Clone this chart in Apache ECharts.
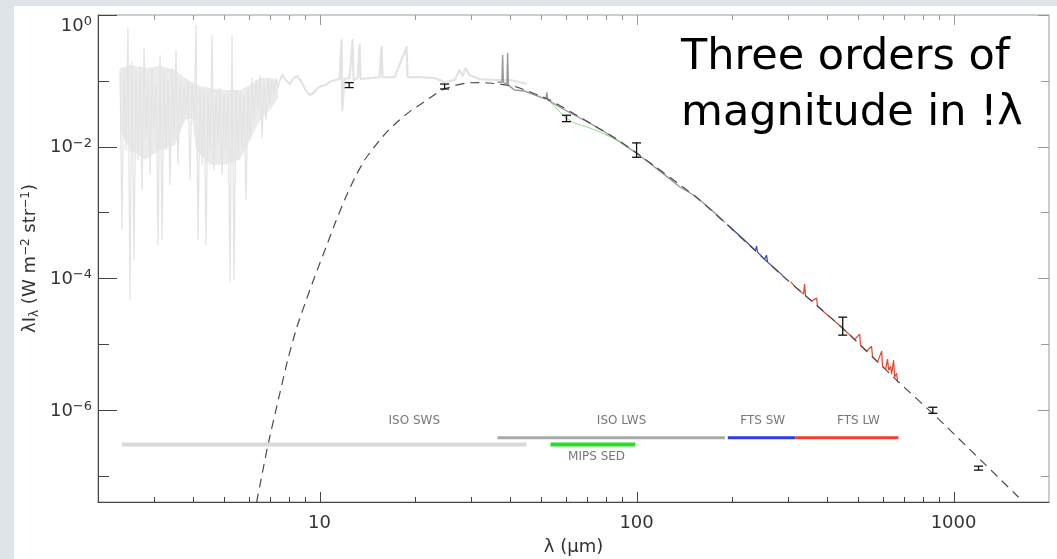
<!DOCTYPE html>
<html>
<head>
<meta charset="utf-8">
<script src="https://cdn.jsdelivr.net/npm/echarts@6/dist/echarts.min.js"></script>
<style>
html, body { margin: 0; padding: 0; width: 1057px; height: 559px; overflow: hidden; background: #dfe4e9; }
#panel { position: absolute; left: 14px; top: 6px; right: 0; bottom: 0; background: #ffffff; }
#chart { position: absolute; left: 0; top: 0; width: 1057px; height: 559px; }
</style>
</head>
<body>
<div id="panel"></div>
<div id="chart"></div>
<script>
// ---- Spectral energy distribution: wavelength (μm) vs λIλ (W m^-2 str^-1) ----

// ISO SWS spectrum, short end (very noisy)
const isoSwsShort = [
  [2.346, 0.146], [2.380, 5.4e-4], [2.415, 0.156], [2.451, 0.0089], [2.486, 0.634], [2.523, 4.7e-5],
  [2.560, 0.193], [2.597, 1.9e-4], [2.635, 0.123], [2.674, 0.0063], [2.714, 0.168], [2.753, 0.0022],
  [2.794, 0.315], [2.835, 0.0126], [2.876, 0.110], [2.919, 0.0037], [2.961, 0.146], [3.005, 0.0179],
  [3.049, 0.0959], [3.093, 3.2e-4], [3.139, 0.247], [3.185, 3.8e-4], [3.231, 0.136], [3.278, 0.0089],
  [3.326, 0.103], [3.375, 0.0026], [3.424, 0.156], [3.474, 0.0126], [3.525, 0.294], [3.577, 0.0053],
  [3.629, 0.0959], [3.682, 0.0213], [3.736, 0.0863], [3.791, 0.0302], [3.846, 0.0959], [3.902, 0.0031],
  [3.959, 0.0894], [4.017, 0.0254], [4.076, 0.705], [4.136, 3.8e-4], [4.196, 0.0777], [4.258, 0.0053],
  [4.320, 0.0725], [4.383, 3.2e-4], [4.447, 0.0676], [4.512, 0.0089], [4.578, 0.497], [4.645, 0.0044],
  [4.713, 0.0725], [4.782, 0.0106], [4.852, 0.0777], [4.923, 0.0037], [4.995, 0.0609], [5.068, 0.0089],
  [5.142, 0.0676], [5.218, 8.8e-5], [5.294, 0.497], [5.372, 9.4e-5], [5.450, 0.0725], [5.530, 0.0063],
  [5.611, 0.0676], [5.693, 0.0089], [5.776, 0.0609], [5.861, 0.00155], [5.946, 0.0777], [6.033, 0.0126],
  [6.122, 0.110], [6.211, 0.0254], [6.302, 0.103], [6.394, 0.036], [6.487, 0.123], [6.582, 0.0135],
  [6.679, 0.0959], [6.776, 0.0254], [6.875, 0.110], [6.976, 0.0429], [7.078, 0.103], [7.181, 0.0609],
  [7.286, 0.110], [7.393, 0.0777], [7.50, 0.103]
];

// dense core of the short-end spectrum: upper and lower edges
const swsCoreWave = [2.346, 2.523, 2.814, 3.139, 3.50, 3.763, 3.96, 4.076, 4.512, 5.03, 5.611, 6.033, 6.487, 6.976, 7.393];
const swsCoreHigh = [0.156, 0.174, 0.156, 0.168, 0.146, 0.110, 0.0959, 0.0863, 0.0777, 0.0725, 0.0725, 0.0863, 0.110, 0.110, 0.103];
const swsCoreLow  = [0.0179, 0.0089, 0.0063, 0.0089, 0.0106, 0.0254, 0.0272, 0.0089, 0.0053, 0.0053, 0.0063, 0.0126, 0.0254, 0.036, 0.0548];

// ISO SWS spectrum, long end
const isoSwsLong = [
  [7.50, 0.103], [7.64, 0.123], [7.81, 0.103], [8.07, 0.0894], [8.28, 0.110], [8.52, 0.118],
  [8.77, 0.0959], [9.03, 0.0725], [9.33, 0.0609], [9.57, 0.0653], [9.86, 0.0777], [10.15, 0.0834],
  [10.45, 0.0863], [10.75, 0.0959], [11.23, 0.103], [11.56, 0.1065], [11.73, 0.417], [11.80, 0.036],
  [11.99, 0.1065], [12.43, 0.110], [12.71, 0.417], [12.80, 0.103], [13.18, 0.110], [13.37, 0.350],
  [13.47, 0.1065], [14.37, 0.110], [15.46, 0.114], [15.69, 0.326], [15.80, 0.114], [17.24, 0.114],
  [18.81, 0.326], [18.95, 0.114], [20.66, 0.114], [23.06, 0.110], [24.8, 0.0959], [26.7, 0.103],
  [27.6, 0.146], [28.25, 0.118], [28.88, 0.156], [29.7, 0.123], [31.9, 0.1065], [35.6, 0.103],
  [39.8, 0.103], [42.7, 0.0959], [45.0, 0.0894]
];

// ISO LWS spectrum
const isoLws = [
  [36.4, 0.096], [37.6, 0.095], [37.8, 0.247], [38.0, 0.094], [39.0, 0.090], [39.2, 0.264],
  [39.4, 0.086], [39.7, 0.083], [41.2, 0.0725], [44.3, 0.070], [47.6, 0.061], [51.7, 0.053],
  [52.1, 0.067], [52.5, 0.051], [57.1, 0.0401], [63.8, 0.030], [71.2, 0.0228], [79.3, 0.0167],
  [88.5, 0.0118], [98.8, 0.0083], [110, 0.0056], [123, 0.0037], [137, 0.00244], [153, 0.00178],
  [170, 0.00116], [190, 7.1e-4]
];

// MIPS SED spectrum
const mipsSed = [
  [53.9, 0.046], [57.2, 0.0336], [60.1, 0.0272], [63.8, 0.0229], [71.1, 0.0192],
  [79.3, 0.0155], [88.4, 0.01175], [97.1, 0.00857]
];

// SPIRE FTS short-wave band
const ftsSw = [
  [193.6, 6.53e-4], [205.2, 5.06e-4], [220.8, 3.66e-4], [232.3, 2.93e-4], [237.3, 2.66e-4],
  [239.0, 3.08e-4], [240.9, 2.5e-4], [253.3, 1.94e-4], [257.0, 2.25e-4], [259.1, 1.76e-4],
  [272.3, 1.43e-4], [288.8, 1.11e-4]
];

// SPIRE FTS long-wave band
const ftsLw = [
  [306.2, 8.85e-5], [317.4, 7.34e-5], [326.8, 6.5e-5], [336.4, 5.75e-5], [338.8, 8.17e-5],
  [341.3, 5.42e-5], [356.5, 4.5e-5], [369.7, 5.0e-5], [372.4, 3.77e-5], [391.8, 3.03e-5],
  [415.3, 2.38e-5], [436.9, 1.92e-5], [463.1, 1.48e-5], [487.3, 1.17e-5], [505.4, 1.42e-5],
  [509.0, 9.54e-6], [531.6, 7.8e-6], [551.0, 9.3e-6], [555.3, 6.37e-6], [575.9, 5.38e-6],
  [593.0, 7.83e-6], [597.0, 4.55e-6], [610.3, 4.17e-6], [619.2, 5.92e-6], [623.7, 4.03e-6],
  [632.9, 4.63e-6], [637.5, 3.5e-6], [646.9, 5.71e-6], [651.5, 3.15e-6], [661.0, 3.62e-6],
  [665.9, 2.64e-6]
];

// Modified blackbody fit (dashed)
const greyBody = [
  [6.33, 3.97e-8], [6.85, 2.72e-7], [7.48, 1.74e-6], [7.93, 5.71e-6], [8.46, 1.75e-5],
  [9.03, 4.35e-5], [9.64, 1.04e-4], [10.6, 3.43e-4], [11.23, 7.15e-4], [11.99, 1.55e-3],
  [12.90, 3.33e-3], [13.87, 6.26e-3], [15.13, 0.01096], [16.39, 0.01726], [17.87, 0.0254],
  [19.51, 0.036], [21.13, 0.046], [22.72, 0.0588], [24.26, 0.0725], [26.67, 0.0848],
  [29.09, 0.0926], [31.9, 0.0942], [34.39, 0.0926], [37.8, 0.0879], [41.83, 0.0805],
  [53.18, 0.0511], [69.55, 0.0245], [86.48, 0.01305], [102.2, 7.45e-3], [158.0, 1.55e-3],
  [282.5, 1.2e-4], [446.6, 1.75e-5], [661, 2.84e-6], [884, 7.78e-7], [1580, 5.07e-8],
  [1639, 4.26e-8]
];

// Photometry with error bars
const photWave = [12.4, 24.8, 60.1, 100, 447, 860, 1199];
const photLow  = [0.079, 0.0752, 0.024, 0.0069, 1.37e-5, 8.9e-7, 1.22e-7];
const photHigh = [0.094, 0.0894, 0.030, 0.0114, 2.57e-5, 1.1e-6, 1.4e-7];

// Instrument wavelength coverage
const bandNames = ['ISO SWS', 'ISO LWS', 'MIPS SED', 'FTS SW', 'FTS LW'];
const bandStart = [2.38, 36.4, 53.5, 194, 317];
const bandEnd   = [45, 190, 99, 317, 670];
const bandLevel = [3.0e-7, 3.8e-7, 3.0e-7, 3.8e-7, 3.8e-7];
const bandLabelWave = [19.9, 89.7, 74.8, 250, 501];
const bandLabelFlux = [6.76e-7, 6.76e-7, 1.92e-7, 6.76e-7, 6.76e-7];

// Axis ticks
const xMajorTicks = [10, 100, 1000];
const xMinorTicks = [3, 4, 5, 6, 7, 8, 9, 20, 30, 40, 50, 60, 70, 80, 90, 200, 300, 400, 500, 600, 700, 800, 900];
const yLabelledTicks = [1, 1e-2, 1e-4, 1e-6];
const yOtherTicks = [1e-1, 1e-3, 1e-5, 1e-7];

const X_MIN = 2, X_MAX = 2000, Y_MIN = 4e-8, Y_MAX = 1;

// ---- styles ----
const bandColors = ['#d9d9d9', '#a8a8a8', '#27e027', '#2b3ed8', '#f0402a'];
const bandWidths = [4, 3, 4, 3, 3];
const FONT = 'DejaVu Sans';

const tickStyle = [
  { dx: 0, dy: -1, len: 10, c: '#444' },  // bottom, decade
  { dx: 0, dy: -1, len: 5,  c: '#444' },  // bottom, minor
  { dx: 0, dy: 1,  len: 10, c: '#999' },  // top, decade
  { dx: 0, dy: 1,  len: 5,  c: '#999' },  // top, minor
  { dx: 1, dy: 0,  len: 19, c: '#444' },  // left, labelled
  { dx: 1, dy: 0,  len: 11, c: '#444' },  // left, other
  { dx: -1, dy: 0, len: 11, c: '#999' },  // right, labelled
  { dx: -1, dy: 0, len: 8,  c: '#999' }   // right, other
];

const tickItems = [];
xMajorTicks.forEach(v => { tickItems.push([v, Y_MIN, 0]); tickItems.push([v, Y_MAX, 2]); });
xMinorTicks.forEach(v => { tickItems.push([v, Y_MIN, 1]); tickItems.push([v, Y_MAX, 3]); });
yLabelledTicks.forEach(v => { tickItems.push([X_MIN, v, 4]); tickItems.push([X_MAX, v, 6]); });
yOtherTicks.forEach(v => { tickItems.push([X_MIN, v, 5]); tickItems.push([X_MAX, v, 7]); });

const errItems = photWave.map((w, i) => [w, photLow[i], photHigh[i]]);
const coreItems = swsCoreWave.map((w, i) => [w, swsCoreHigh[i], swsCoreLow[i]]);

function isPow10(v) {
  const e = Math.log10(v);
  return Math.abs(e - Math.round(e)) < 1e-6;
}

const lineBase = {
  type: 'line', showSymbol: false, symbol: 'none', animation: false, silent: true, clip: true
};

const series = [
  // filled core of the noisy short-wavelength spectrum
  {
    type: 'custom', name: 'ISO SWS core', animation: false, silent: true, z: 0,
    data: coreItems,
    renderItem: function (params, api) {
      if (params.dataIndex !== 0) return null;
      const upper = [], lower = [];
      for (let i = 0; i < coreItems.length; i++) {
        upper.push(api.coord([coreItems[i][0], coreItems[i][1]]));
        lower.push(api.coord([coreItems[i][0], coreItems[i][2]]));
      }
      return { type: 'polygon', shape: { points: upper.concat(lower.reverse()) },
        style: { fill: '#ebebeb' } };
    }
  },
  Object.assign({}, lineBase, { name: 'ISO SWS', data: isoSwsShort, z: 1,
    lineStyle: { color: '#e3e3e3', width: 1.2 } }),
  Object.assign({}, lineBase, { name: 'ISO SWS long', data: isoSwsLong, z: 1,
    lineStyle: { color: '#e3e3e3', width: 2.2, join: 'round' } }),
  Object.assign({}, lineBase, { name: 'ISO LWS', data: isoLws, z: 2,
    lineStyle: { color: '#999999', width: 1.4 } }),
  Object.assign({}, lineBase, { name: 'MIPS SED', data: mipsSed, z: 3, smooth: 0.3,
    lineStyle: { color: '#86dc86', width: 1 } }),
  Object.assign({}, lineBase, { name: 'FTS SW', data: ftsSw, z: 3,
    lineStyle: { color: '#3447c8', width: 1.2 } }),
  Object.assign({}, lineBase, { name: 'FTS LW', data: ftsLw, z: 3,
    lineStyle: { color: '#e5432e', width: 1.2 } }),
  Object.assign({}, lineBase, { name: 'fit', data: greyBody, z: 4, smooth: 0.2,
    lineStyle: { color: '#4a4a4a', width: 1.2, type: [9, 6] } })
];

// coverage bars
bandNames.forEach((n, i) => {
  series.push(Object.assign({}, lineBase, {
    name: n + ' range', z: 5,
    data: [[bandStart[i], bandLevel[i]], [bandEnd[i], bandLevel[i]]],
    lineStyle: { color: bandColors[i], width: bandWidths[i], cap: 'butt' }
  }));
});

// coverage labels
series.push({
  type: 'scatter', name: 'band labels', animation: false, silent: true, z: 6,
  symbolSize: 1, itemStyle: { color: 'rgba(0,0,0,0)' },
  data: bandNames.map((n, i) => ({ name: n, value: [bandLabelWave[i], bandLabelFlux[i]] })),
  label: { show: true, position: 'inside', formatter: '{b}', color: '#555',
    fontFamily: FONT, fontSize: 12 }
});

// photometric points with error bars
series.push({
  type: 'custom', name: 'photometry', animation: false, silent: true, z: 7, clip: false,
  data: errItems,
  renderItem: function (params, api) {
    const a = api.coord([api.value(0), api.value(1)]);
    const b = api.coord([api.value(0), api.value(2)]);
    const w = 4.5;
    const st = { stroke: '#111', lineWidth: 1.3 };
    return { type: 'group', children: [
      { type: 'line', shape: { x1: a[0], y1: a[1], x2: b[0], y2: b[1] }, style: st },
      { type: 'line', shape: { x1: a[0] - w, y1: a[1], x2: a[0] + w, y2: a[1] }, style: st },
      { type: 'line', shape: { x1: b[0] - w, y1: b[1], x2: b[0] + w, y2: b[1] }, style: st }
    ]};
  }
});

// axis ticks (inward, IDL style)
series.push({
  type: 'custom', name: 'ticks', animation: false, silent: true, z: 8, clip: false,
  data: tickItems,
  renderItem: function (params, api) {
    const p = api.coord([api.value(0), api.value(1)]);
    const s = tickStyle[api.value(2)];
    const x = Math.round(p[0]) + (s.dx === 0 ? 0.5 : 0);
    const y = Math.round(p[1]) + (s.dy === 0 ? 0.5 : 0);
    return { type: 'line',
      shape: { x1: x, y1: y, x2: x + s.dx * s.len, y2: y + s.dy * s.len },
      style: { stroke: s.c, lineWidth: 1 } };
  }
});

const chart = echarts.init(document.getElementById('chart'), null, { renderer: 'canvas' });

chart.setOption({
  backgroundColor: 'transparent',
  animation: false,
  title: {
    text: 'Three orders of\nmagnitude in !λ',
    left: 676, top: 25,
    textStyle: { fontFamily: FONT, fontSize: 43, fontWeight: 'normal', color: '#000', lineHeight: 56 }
  },
  grid: {
    left: 98, top: 15, right: 8, bottom: 57,
    show: true, borderColor: '#9a9a9a', borderWidth: 1,
    outerBoundsMode: 'none', containLabel: false
  },
  xAxis: {
    type: 'log', logBase: 10, min: X_MIN, max: X_MAX,
    name: 'λ (μm)', nameLocation: 'middle', nameGap: 36, nameMoveOverlap: false,
    nameTextStyle: { fontFamily: FONT, fontSize: 18, color: '#333' },
    axisLine: { show: true, lineStyle: { color: '#444', width: 1 } },
    axisTick: { show: false },
    splitLine: { show: false },
    axisLabel: {
      fontFamily: FONT, fontSize: 18, color: '#333', margin: 12,
      showMinLabel: false, showMaxLabel: false,
      formatter: v => (isPow10(v) ? String(Math.round(v)) : '')
    }
  },
  yAxis: {
    type: 'log', logBase: 10, min: Y_MIN, max: Y_MAX, splitNumber: 8,
    name: 'λI{sub|λ} (W m{sup|−2} str{sup|−1})',
    nameLocation: 'middle', nameGap: 57, nameRotate: 90, nameMoveOverlap: false,
    nameTextStyle: {
      fontFamily: FONT, fontSize: 18, color: '#333', lineHeight: 21,
      rich: {
        sub: { fontFamily: FONT, fontSize: 12, color: '#333', verticalAlign: 'bottom', lineHeight: 12 },
        sup: { fontFamily: FONT, fontSize: 12, color: '#333', verticalAlign: 'top', lineHeight: 12 }
      }
    },
    axisLine: { show: true, lineStyle: { color: '#444', width: 1 } },
    axisTick: { show: false },
    splitLine: { show: false },
    axisLabel: {
      margin: 6, color: '#333', fontFamily: FONT,
      verticalAlignMaxLabel: 'top',
      formatter: function (v) {
        if (!isPow10(v)) return '';
        const e = Math.round(Math.log10(v));
        if (e % 2 !== 0) return '';
        return '{b|10}{e|' + (e < 0 ? '−' + (-e) : e) + '}';
      },
      rich: {
        b: { fontFamily: FONT, fontSize: 18, color: '#333', lineHeight: 20, verticalAlign: 'bottom' },
        e: { fontFamily: FONT, fontSize: 13, color: '#333', lineHeight: 13, verticalAlign: 'top' }
      }
    }
  },
  series: series
});
</script>
</body>
</html>
